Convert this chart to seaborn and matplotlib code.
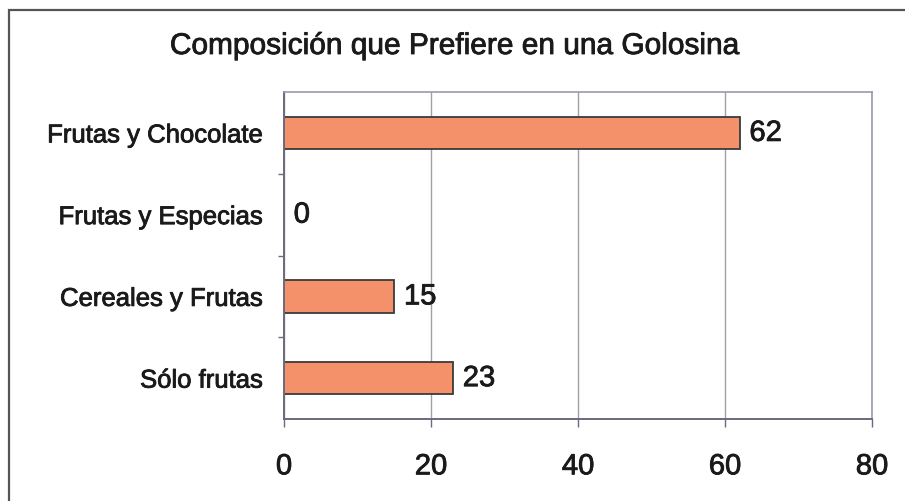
import matplotlib
matplotlib.use("Agg")
import matplotlib.pyplot as plt
import matplotlib.patheffects as pe
from matplotlib.patches import Rectangle
from matplotlib.ticker import FixedLocator
import seaborn as sns
import pandas as pd

# Survey results
categorias = ["Frutas y Chocolate", "Frutas y Especias", "Cereales y Frutas", "Sólo frutas"]
valores = [62, 0, 15, 23]
x_ticks = [0, 20, 40, 60, 80]
titulo = "Composición que Prefiere en una Golosina"

sns.set_theme(style="white")
plt.rcParams["font.family"] = ["Liberation Sans", "DejaVu Sans"]

df = pd.DataFrame({"categoria": categorias, "valor": valores})
heavy = [pe.withStroke(linewidth=0.6, foreground="#1a1a1a")]

fig = plt.figure(figsize=(9.05, 5.01), dpi=100)
fig.patch.set_facecolor("white")

# Outer chart border
fig.patches.append(Rectangle((9 / 905, -0.05), 1.0, 1 - 10 / 501 + 0.05,
                             transform=fig.transFigure, fill=False,
                             edgecolor="#555555", linewidth=1.6, zorder=0))

ax = fig.add_axes([284 / 905, 82 / 501, 588 / 905, 327 / 501])
sns.barplot(data=df, x="valor", y="categoria", orient="h", ax=ax,
            color="#F4906A", edgecolor="#3a3a3a", linewidth=1.3,
            width=0.4, saturation=1)

ax.set_xlim(0, 80)
ax.set_ylim(3.5, -0.5)
ax.set_xticks(x_ticks)
ax.set_xlabel("")
ax.set_ylabel("")

ax.xaxis.grid(True, color="#a0a0a8", linewidth=1.0)
ax.set_axisbelow(True)

for side in ("top", "right"):
    ax.spines[side].set_color("#9a9aae")
    ax.spines[side].set_linewidth(1.2)
for side in ("left", "bottom"):
    ax.spines[side].set_color("#6a6a80")
    ax.spines[side].set_linewidth(1.4)

ax.tick_params(axis="x", direction="out", length=6, width=1, color="#6a6a80",
               labelsize=21, pad=18, bottom=True)
ax.tick_params(axis="y", which="major", length=0, labelsize=18.5, pad=15, left=True)
ax.yaxis.set_minor_locator(FixedLocator([0.5, 1.5, 2.5]))
ax.tick_params(axis="y", which="minor", direction="out", length=4, width=1,
               color="#6a6a80", left=True)
for lbl in ax.get_xticklabels() + ax.get_yticklabels():
    lbl.set_color("#1a1a1a")
    lbl.set_path_effects(heavy)

# Value labels at the end of each bar
for i, v in enumerate(valores):
    ax.annotate(f"{v}", xy=(v, i), xytext=(7, 0), textcoords="offset points",
                ha="left", va="center", fontsize=21, color="#1a1a1a",
                path_effects=heavy)

fig.text(455 / 905, 1 - 46 / 501, titulo, ha="center", va="center",
         fontsize=21.5, color="#1a1a1a", path_effects=heavy)

fig.savefig("out.png", dpi=100, facecolor="white")
